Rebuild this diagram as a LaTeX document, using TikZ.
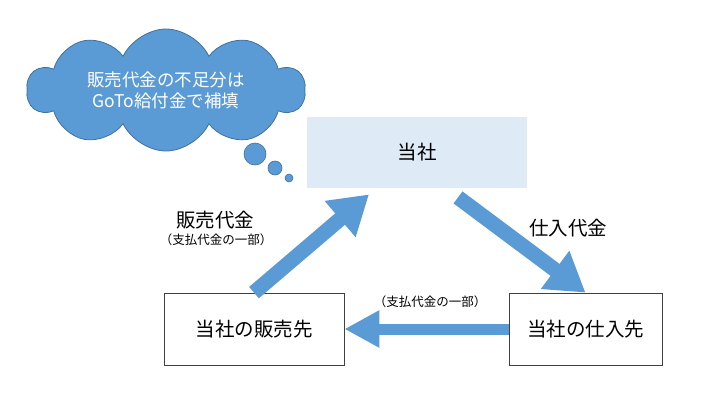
\documentclass[tikz,border=0pt]{standalone}
\usepackage{fontspec}
\setmainfont{Noto Sans CJK JP}
\usetikzlibrary{arrows.meta,shapes.symbols}
\definecolor{flowblue}{HTML}{5B9BD5}
\definecolor{cloudline}{HTML}{41719C}
\definecolor{paleblue}{HTML}{DEEBF7}
\begin{document}
\begin{tikzpicture}[x=1pt,y=-1pt,
    party/.style={draw=black!75,line width=0.8pt,minimum width=180pt,minimum height=72pt,
      font=\fontsize{19.5}{22}\selectfont},
    flow/.style={flowblue,line width=15pt,-{Triangle[width=45pt,length=38pt]}},
    flowlbl/.style={font=\fontsize{19.5}{22}\selectfont},
    flownote/.style={font=\fontsize{12.5}{14}\selectfont},
    thought/.style={cloud,cloud puffs=10,cloud puff arc=130,cloud ignores aspect,fill=flowblue,
      draw=cloudline,line width=0.8pt,minimum width=278pt,minimum height=122pt,inner sep=0pt,
      text=white,align=center,font=\fontsize{17.5}{21}\selectfont},
    bubble/.style={fill=flowblue,draw=cloudline,line width=0.6pt}]
  \useasboundingbox (0,0) rectangle (710,407);
  \draw
    (417,152.5) node[party,draw=none,fill=paleblue,minimum width=220pt,minimum height=71pt] (co){当社}
    (254,329) node[party] (sell){当社の販売先}
    (585.5,329) node[party,minimum width=153pt] (buy){当社の仕入先};
  \node[thought] (note) at (166,90) {販売代金の不足分は\\GoTo給付金で補填};
  \filldraw[bubble] (255,154) circle (11);
  \filldraw[bubble] (275,168) circle (7);
  \filldraw[bubble] (289,178) circle (4);
  \begin{scope}[flow]
    \draw (sell.north) to ([xshift=-48pt,yshift=-6pt]co.south);
    \draw ([xshift=41pt,yshift=-9pt]co.south) to (buy.north);
    \draw[line width=11pt,-{Triangle[width=35pt,length=35pt]}] (buy.west) to (sell.east);
  \end{scope}
  \node[flowlbl] (salelbl) at (215,220) {販売代金};
  \node[flownote] (salenote) at (216,240) {（支払代金の一部）};
  \node[flownote] (paynote) at (430,302) {（支払代金の一部）};
  \node[flowlbl] (buylbl) at (568,228) {仕入代金};
\end{tikzpicture}
\end{document}
